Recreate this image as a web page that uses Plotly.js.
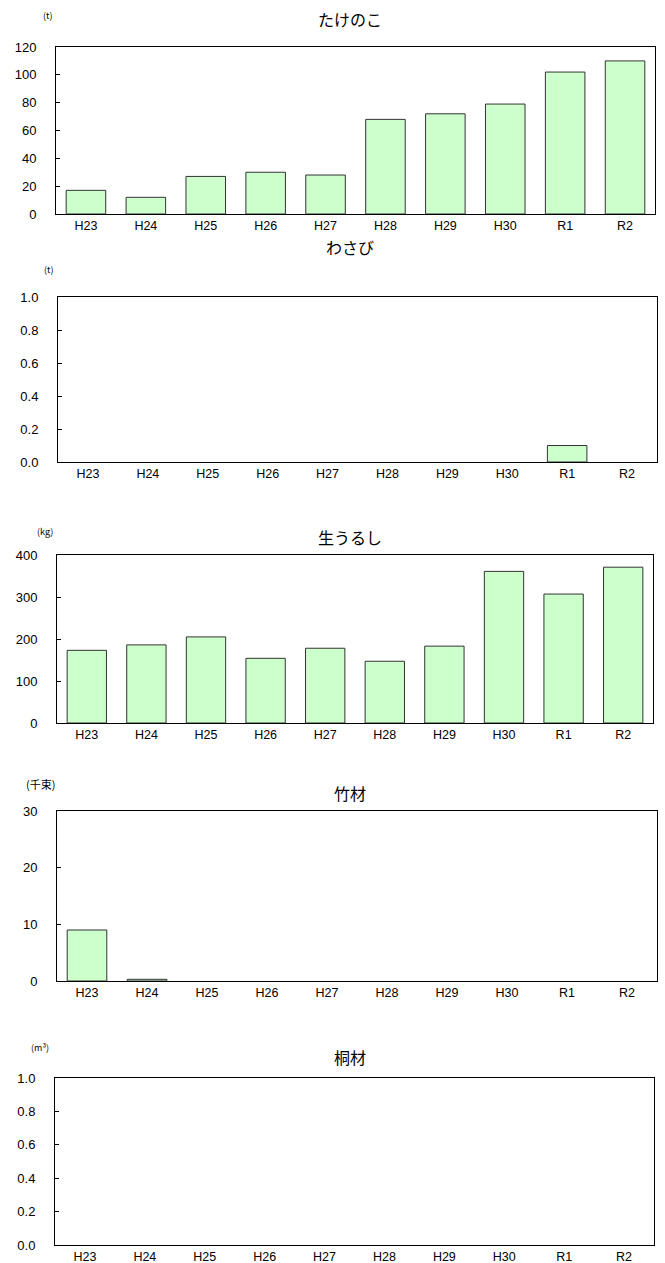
<!DOCTYPE html>
<html>
<head>
<meta charset="utf-8">
<script src="https://cdn.plot.ly/plotly-3.0.1.min.js"></script>
<style>html,body{margin:0;padding:0;background:#fff;}#chart{width:665px;height:1263px;}</style>
</head>
<body>
<div id="chart"></div>
<script>
const categories = ["H23","H24","H25","H26","H27","H28","H29","H30","R1","R2"];
const takenoko = [17, 12, 27, 30, 28, 68, 72, 79, 102, 110];
const wasabi = [0, 0, 0, 0, 0, 0, 0, 0, 0.1, 0];
const namaurushi = [173, 186, 205, 154, 178, 147, 183, 361, 307, 371];
const chikuzai = [9, 0.3, 0, 0, 0, 0, 0, 0, 0, 0];
const kirizai = [0, 0, 0, 0, 0, 0, 0, 0, 0, 0];
const titles = ["たけのこ", "わさび", "生うるし", "竹材", "桐材"];
const units = ["(t)", "(t)", "(kg)", "(千束)", "(m³)"];
const series = [takenoko, wasabi, namaurushi, chikuzai, kirizai];
const yRanges = [[0,120],[0,1],[0,400],[0,30],[0,1]];
const yDticks = [20, 0.2, 100, 10, 0.2];
const yFormats = ["d", ".1f", "d", "d", ".1f"];

const W = 665, H = 1263;
// plot rectangles in pixels: [left, right, top, bottom]
const rects = [
  [56, 655, 47, 214],
  [58, 657, 297, 462],
  [57, 653, 555, 723],
  [57, 657, 811, 981],
  [55, 654, 1078, 1245]
];
const titleY = [19, 247, 537, 793, 1057];
const unitPos = [[47, 16], [48, 269], [45, 531], [40, 784], [40, 1047]];

const numFont = "Liberation Sans, Arial, sans-serif";
const jpFont = "Noto Sans CJK JP, sans-serif";

const data = [];
const layout = {
  width: W, height: H,
  margin: {l: 0, r: 0, t: 0, b: 0},
  paper_bgcolor: "#fff", plot_bgcolor: "#fff",
  showlegend: false,
  bargap: 0.34,
  annotations: []
};

series.forEach((vals, i) => {
  const n = i + 1;
  const xa = n === 1 ? "x" : "x" + n;
  const ya = n === 1 ? "y" : "y" + n;
  data.push({
    type: "bar",
    x: categories,
    y: vals,
    xaxis: xa, yaxis: ya,
    marker: {color: "#CCFFCC", line: {color: "#333333", width: vals.map(v => v > 0 ? 1 : 0)}},
    hoverinfo: "x+y"
  });
  const r = rects[i];
  const xk = n === 1 ? "xaxis" : "xaxis" + n;
  const yk = n === 1 ? "yaxis" : "yaxis" + n;
  layout[xk] = {
    domain: [r[0] / W, r[1] / W],
    anchor: ya,
    type: "category",
    showline: true, mirror: true, linecolor: "#000", linewidth: 1,
    ticks: "", showgrid: false, zeroline: false,
    tickfont: {family: numFont, size: 12.5, color: "#000"}
  };
  layout[yk] = {
    domain: [1 - r[3] / H, 1 - r[2] / H],
    anchor: xa,
    range: yRanges[i],
    dtick: yDticks[i],
    tick0: 0,
    tickformat: yFormats[i],
    showline: true, mirror: true, linecolor: "#000", linewidth: 1,
    ticks: "inside", ticklen: 4, tickcolor: "#000",
    showgrid: false, zeroline: false,
    tickfont: {family: numFont, size: 13, color: "#000"},
    ticklabelstandoff: 16
  };
  layout.annotations.push({
    xref: "paper", yref: "paper",
    x: 350 / W, y: 1 - titleY[i] / H,
    xanchor: "center", yanchor: "middle",
    text: titles[i], showarrow: false,
    font: {family: jpFont, size: 16, color: "#000"}
  });
  layout.annotations.push({
    xref: "paper", yref: "paper",
    x: unitPos[i][0] / W, y: 1 - unitPos[i][1] / H,
    xanchor: "center", yanchor: "middle",
    text: units[i], showarrow: false,
    font: {family: jpFont, size: i === 3 ? 11 : 9, color: "#000"}
  });
});

Plotly.newPlot("chart", data, layout, {displayModeBar: false, staticPlot: true});
</script>
</body>
</html>
